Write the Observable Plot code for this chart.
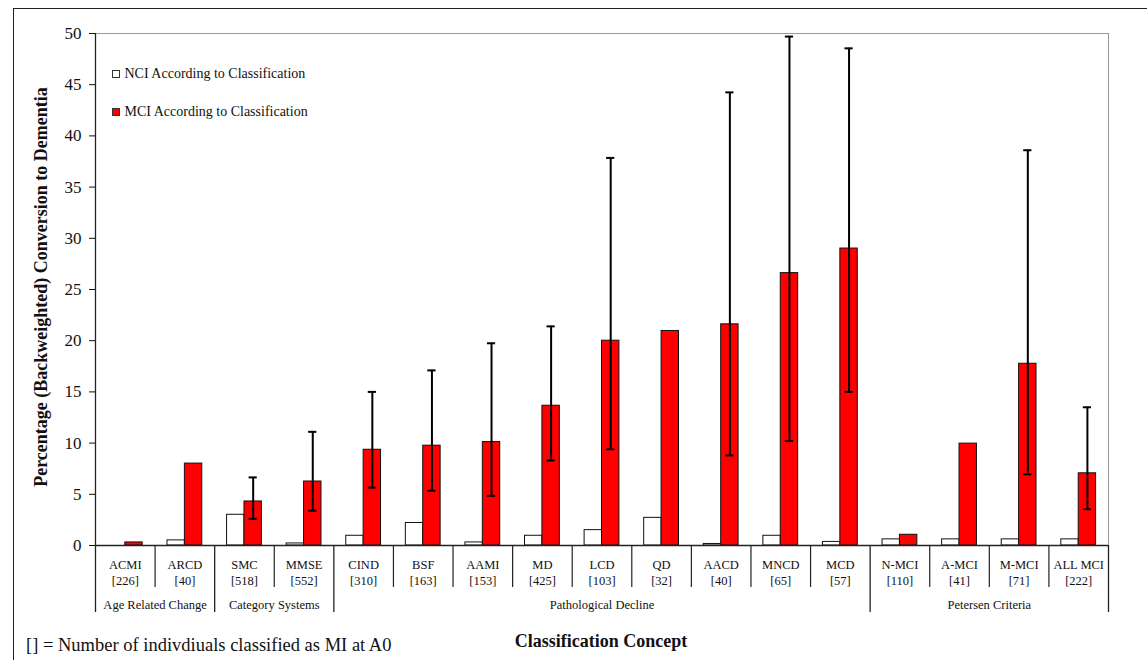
<!DOCTYPE html>
<html>
<head>
<meta charset="utf-8">
<script src="https://cdn.jsdelivr.net/npm/d3@7"></script>
<script src="https://cdn.jsdelivr.net/npm/@observablehq/plot@0.6"></script>
<style>
html,body{margin:0;padding:0;width:1147px;height:660px;overflow:hidden;background:#fff;
  font-family:'Liberation Serif','Times New Roman',serif;color:#111}
#wrap{position:relative;width:1147px;height:660px;overflow:hidden}
#wrap svg{position:absolute;left:0;top:0;font-family:'Liberation Serif','Times New Roman',serif}
#wrap svg text, #wrap svg tspan{font-family:'Liberation Serif','Times New Roman',serif !important}
.outer{position:absolute;left:13px;top:8px;width:1160px;height:680px;border:1.5px solid #222;box-sizing:border-box}
.legend{position:absolute;left:112px;top:67px;font-size:14px;line-height:14px}
.legend .item{position:relative;height:38px;white-space:nowrap}
.legend .sw{position:absolute;left:0;top:3px;width:8px;height:8px;border:1px solid #333;box-sizing:border-box}
.legend .lab{position:absolute;left:12.5px;top:0}
.ytitle{position:absolute;left:-219px;top:278px;width:520px;text-align:center;font-weight:bold;font-size:18px;
  line-height:18px;transform:rotate(-90deg);white-space:nowrap}
.xtitle{position:absolute;left:401px;width:400px;top:631.5px;text-align:center;font-weight:bold;font-size:18px;line-height:18px}
.note{position:absolute;left:26px;top:636px;font-size:18.5px;line-height:18.5px;white-space:nowrap}
</style>
</head>
<body>
<div id="wrap">
  <div class="outer"></div>
</div>
<script>
// ---------- data ----------
const categories = ["ACMI","ARCD","SMC","MMSE","CIND","BSF","AAMI","MD","LCD","QD","AACD","MNCD","MCD","N-MCI","A-MCI","M-MCI","ALL MCI"];
const counts     = [226, 40, 518, 552, 310, 163, 153, 425, 103, 32, 40, 65, 57, 110, 41, 71, 222];
const nciValues  = [0, 0.5, 3.0, 0.2, 0.95, 2.2, 0.3, 0.95, 1.5, 2.7, 0.15, 0.95, 0.35, 0.6, 0.6, 0.6, 0.6];
const mciValues  = [0.3, 8.0, 4.3, 6.25, 9.35, 9.75, 10.1, 13.65, 20.0, 20.95, 21.6, 26.6, 29.0, 1.05, 9.95, 17.75, 7.05];
const errLow     = [null, null, 2.6, 3.4, 5.65, 5.35, 4.85, 8.3, 9.4, null, 8.8, 10.2, 15.0, null, null, 6.95, 3.55];
const errHigh    = [null, null, 6.65, 11.1, 15.0, 17.1, 19.75, 21.4, 37.85, null, 44.25, 49.7, 48.55, null, null, 38.6, 13.5];
const groups     = ["Age Related Change","Category Systems","Pathological Decline","Petersen Criteria"];
const groupSizes = [2, 2, 9, 4];
const seriesKeys   = ["NCI","MCI"];
const seriesLabels = ["NCI According to Classification","MCI According to Classification"];
const seriesColors = ["#ffffff","#ff0000"];
const yTicks = [0,5,10,15,20,25,30,35,40,45,50];
const yTitle = "Percentage (Backweighted) Conversion to Dementia";
const xTitle = "Classification Concept";
const note = "[] = Number of indivdiuals classified as MI at A0";

// ---------- derived tables ----------
const bars = categories.flatMap((c, i) => [
  {cat: c, series: seriesKeys[0], value: nciValues[i]},
  {cat: c, series: seriesKeys[1], value: mciValues[i]}
]);
const errs = categories.map((c, i) => ({cat: c, lo: errLow[i], hi: errHigh[i]})).filter(d => d.lo != null);
const edges = [0];
groupSizes.forEach(s => edges.push(edges[edges.length - 1] + s));
const catEdges = d3.range(1, categories.length).filter(i => !edges.includes(i));
const groupMids = groups.map((g, k) => ({name: g, x: (edges[k] + edges[k + 1]) / 2}));

// layout
const W = 1147, H = 660;
const margins = {marginTop: 33, marginRight: 39, marginBottom: 115, marginLeft: 95};
const font = "'Liberation Serif','Times New Roman',serif";
const depth = {cat: -4.1, group: -6.54, label: -5.8}; // table rows below the axis, in y units

const main = Plot.plot({
  width: W, height: H, ...margins,
  style: {fontFamily: font, background: "transparent", color: "#111", overflow: "visible"},
  fx: {domain: categories, padding: 0, round: false},
  x: {domain: seriesKeys, paddingInner: 0, paddingOuter: 0.7125, round: false, axis: null},
  y: {domain: [0, 50]},
  color: {domain: seriesKeys, range: seriesColors},
  marks: [
    Plot.axisY({ticks: yTicks, tickSize: 6, tickPadding: 8, fontSize: 17, fontFamily: font, label: null}),
    Plot.axisFx({anchor: "bottom", tickSize: 0, tickPadding: 12, fontSize: 12.5, fontFamily: font, lineHeight: 1.3, label: null,
      tickFormat: d => `${d}\n[${counts[categories.indexOf(d)]}]`}),
    Plot.barY(bars, {fx: "cat", x: "series", y: "value", fill: "series", stroke: "#111", strokeWidth: 1}),
    Plot.ruleX(errs, {fx: "cat", x: () => "MCI", y1: "lo", y2: "hi", stroke: "#000", strokeWidth: 2}),
    Plot.tickY(errs, {fx: "cat", x: () => "MCI", y: "lo", stroke: "#000", strokeWidth: 2, insetLeft: 4.6, insetRight: 4.6}),
    Plot.tickY(errs, {fx: "cat", x: () => "MCI", y: "hi", stroke: "#000", strokeWidth: 2, insetLeft: 4.6, insetRight: 4.6})
  ]
});

const table = Plot.plot({
  width: W, height: H, ...margins,
  style: {fontFamily: font, background: "transparent", color: "#111", overflow: "visible"},
  x: {domain: [0, categories.length], axis: null},
  y: {domain: [0, 50], axis: null},
  marks: [
    Plot.frame({stroke: "#999", strokeWidth: 1}),
    Plot.ruleY([0], {stroke: "#222", strokeWidth: 1.6}),
    Plot.ruleX(catEdges, {x: d => d, y1: () => 0, y2: () => depth.cat, stroke: "#222", strokeWidth: 1.2}),
    Plot.ruleX(edges, {x: d => d, y1: () => depth.group, y2: d => d === 0 ? 50 : 0, stroke: "#222", strokeWidth: 1.3}),
    Plot.text(groupMids, {x: "x", y: () => depth.label, text: "name", fontSize: 12.5, fontFamily: font})
  ]
});

const wrap = document.getElementById("wrap");
wrap.appendChild(main);
wrap.appendChild(table);

// legend
const legend = document.createElement("div");
legend.className = "legend";
seriesLabels.forEach((lab, k) => {
  const item = document.createElement("div");
  item.className = "item";
  item.innerHTML = `<span class="sw" style="background:${seriesColors[k]}"></span><span class="lab">${lab}</span>`;
  legend.appendChild(item);
});
wrap.appendChild(legend);

function addText(cls, txt) {
  const d = document.createElement("div");
  d.className = cls; d.textContent = txt; wrap.appendChild(d);
}
addText("ytitle", yTitle);
addText("xtitle", xTitle);
addText("note", note);
</script>
</body>
</html>
